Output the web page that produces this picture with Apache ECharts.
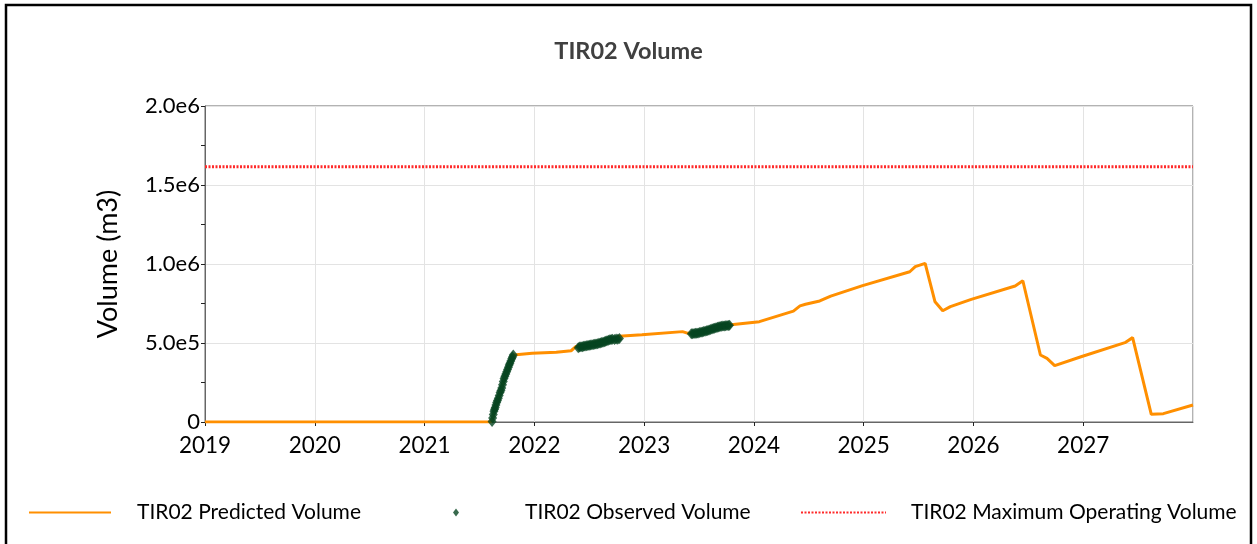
<!DOCTYPE html>
<html>
<head>
<meta charset="utf-8">
<script src="https://cdn.jsdelivr.net/npm/echarts@6/dist/echarts.min.js"></script>
<style>
  html, body { margin: 0; padding: 0; background: #fff; }
  #chart { width: 1257px; height: 544px; }
</style>
</head>
<body>
<div id="chart"></div>
<script>
// decimal years on x, volume (m3) on y
const predYears = [2019.0, 2021.605, 2021.62, 2021.65, 2021.70, 2021.75, 2021.81, 2021.98, 2022.2, 2022.335,
    2022.38, 2022.50, 2022.73, 2022.77, 2022.98, 2023.35, 2023.40, 2023.45, 2023.77, 2024.05,
    2024.36, 2024.42, 2024.47, 2024.60, 2024.70, 2024.99, 2025.42, 2025.47, 2025.56, 2025.65,
    2025.72, 2025.79, 2025.98, 2026.38, 2026.45, 2026.61, 2026.67, 2026.74, 2026.98, 2027.38,
    2027.45, 2027.62, 2027.73, 2028.0];
const predValues = [0, 0, 22000, 105000, 208000, 320000, 424000, 435000, 442000, 451000,
    478000, 497000, 530000, 542000, 552000, 572000, 561000, 565000, 614000, 635000,
    702000, 735000, 745000, 766000, 797000, 863000, 951000, 983000, 1004000, 761000,
    704000, 730000, 776000, 861000, 894000, 424000, 403000, 357000, 413000, 502000,
    534000, 48500, 52700, 107600];

const obsYears = [
    2021.615, 2021.620, 2021.626, 2021.632, 2021.638, 2021.644, 2021.650, 2021.657, 2021.664, 2021.672,
    2021.680, 2021.688, 2021.696, 2021.703, 2021.710, 2021.717, 2021.724, 2021.732, 2021.740, 2021.748,
    2021.756, 2021.764, 2021.771, 2021.778, 2021.786, 2021.794, 2021.801, 2021.808,
    2022.400, 2022.412, 2022.425, 2022.438, 2022.450, 2022.462, 2022.475, 2022.488, 2022.500, 2022.512,
    2022.525, 2022.538, 2022.550, 2022.562, 2022.575, 2022.588, 2022.600, 2022.612, 2022.625, 2022.638,
    2022.650, 2022.662, 2022.675, 2022.688, 2022.700, 2022.712, 2022.730, 2022.745, 2022.760, 2022.775,
    2023.430, 2023.442, 2023.455, 2023.468, 2023.480, 2023.492, 2023.505, 2023.518, 2023.530, 2023.542,
    2023.555, 2023.568, 2023.580, 2023.592, 2023.605, 2023.618, 2023.630, 2023.642, 2023.655, 2023.668,
    2023.680, 2023.692, 2023.705, 2023.718, 2023.730, 2023.742, 2023.755, 2023.768, 2023.778];
const obsValues = [
    3000, 25000, 48000, 68000, 80000, 92000, 108000, 124000, 136000, 150000,
    168000, 186000, 200000, 215000, 236000, 256000, 275000, 290000, 304000, 318000,
    333000, 347000, 360000, 372000, 386000, 400000, 412000, 424000,
    470000, 474000, 476000, 477000, 479000, 481000, 482000, 484000, 486000, 487000,
    489000, 490000, 492000, 494000, 496000, 498000, 500000, 503000, 505000, 508000,
    511000, 514000, 517000, 520000, 522000, 524000, 522000, 526000, 524000, 528000,
    558000, 559000, 560000, 561000, 562000, 564000, 566000, 568000, 570000, 572000,
    575000, 577000, 579000, 582000, 585000, 588000, 591000, 594000, 597000, 600000,
    602000, 604000, 606000, 607000, 608000, 609000, 610000, 611000, 612000];

const maxOpYears = [2019.0, 2028.0];
const maxOpValues = [1616000, 1616000];

const seriesNames = ["TIR02 Predicted Volume", "TIR02 Observed Volume", "TIR02 Maximum Operating Volume"];

const font = "Lato";
const zip = (xs, ys) => xs.map((x, i) => [x, ys[i]]);

let chart = echarts.init(document.getElementById("chart"));

let legendText = function (pad) {
    return { fontFamily: font, fontSize: 21, color: "#000", padding: [0, 0, 0, pad] };
};

let option = {
    animation: false,
    title: {
        text: "TIR02 Volume",
        left: "center",
        top: 34,
        textStyle: { fontFamily: font, fontSize: 23.5, fontWeight: "bold", color: "#404040" }
    },
    legend: [
        { data: [seriesNames[0]], left: 23, top: 497, itemWidth: 82, itemHeight: 14, itemStyle: { opacity: 0 }, textStyle: legendText(21) },
        { data: [seriesNames[1]], left: 448, top: 497, itemWidth: 6, itemHeight: 8, textStyle: legendText(61) },
        { data: [seriesNames[2]], left: 795, top: 497, itemWidth: 85, itemHeight: 14, itemStyle: { opacity: 0 }, textStyle: legendText(20) }
    ],
    grid: { left: 205, right: 64, top: 106, bottom: 122, show: true, borderColor: "#666", borderWidth: 1 },
    xAxis: {
        type: "value",
        min: 2019,
        max: 2028,
        interval: 1,
        axisLine: { lineStyle: { color: "#666" } },
        axisTick: { show: true, length: 4, lineStyle: { color: "#222" } },
        axisLabel: {
            fontFamily: font, fontSize: 22.5, color: "#000", margin: 12,
            showMaxLabel: false,
            formatter: v => String(Math.round(v))
        },
        splitLine: { show: true, lineStyle: { color: "#e3e3e3" } }
    },
    yAxis: {
        type: "value",
        min: 0,
        max: 2000000,
        interval: 500000,
        name: "Volume (m3)",
        nameLocation: "middle",
        nameGap: 83,
        nameTextStyle: { fontFamily: font, fontSize: 27, color: "#000" },
        axisLine: { show: true, lineStyle: { color: "#666" } },
        axisTick: { show: true, length: 4, lineStyle: { color: "#222" } },
        minorTick: { show: true, splitNumber: 2, length: 4, lineStyle: { color: "#222" } },
        axisLabel: {
            fontFamily: font, fontSize: 22, color: "#000", margin: 5,
            formatter: v => v === 0 ? "0" : v.toExponential(1).replace("e+", "e")
        },
        splitLine: { show: true, lineStyle: { color: "#e3e3e3" } }
    },
    graphic: [{
        type: "rect",
        shape: { x: 6, y: 5, width: 1245, height: 560 },
        style: { fill: "none", stroke: "#000", lineWidth: 2.5 },
        silent: true
    }],
    series: [
        {
            name: seriesNames[0],
            type: "line",
            data: zip(predYears, predValues),
            symbol: "none",
            lineStyle: { color: "#ff8f00", width: 3 },
            itemStyle: { color: "#ff8f00" },
            z: 2
        },
        {
            name: seriesNames[1],
            type: "scatter",
            data: zip(obsYears, obsValues),
            symbol: "diamond",
            symbolSize: [9, 11],
            itemStyle: { color: "#064521" },
            z: 3
        },
        {
            name: seriesNames[2],
            type: "line",
            data: zip(maxOpYears, maxOpValues),
            symbol: "none",
            lineStyle: { color: "#ff2a2a", width: 3, type: [2, 1.5] },
            itemStyle: { color: "#ff2a2a" },
            z: 2
        }
    ]
};

chart.setOption(option);
</script>
</body>
</html>
